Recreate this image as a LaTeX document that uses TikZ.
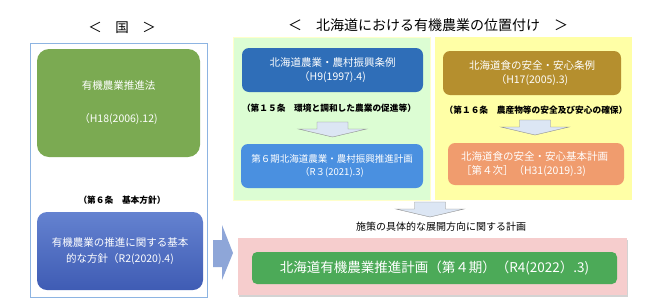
\documentclass[tikz,border=0pt]{standalone}
\usepackage{fontspec}
\setmainfont{Noto Sans CJK JP}
\usepackage{tikz}
\usetikzlibrary{arrows.meta, positioning, calc, shadows}
\definecolor{kokuline}{HTML}{8DB4E2}
\definecolor{hougreen}{HTML}{7BAA52}
\definecolor{kihontop}{HTML}{6482D0}
\definecolor{kihonbot}{HTML}{3F5CB4}
\definecolor{jourei}{HTML}{2F6EB8}
\definecolor{keikaku}{HTML}{4A90E0}
\definecolor{shokuolive}{HTML}{B58F2E}
\definecolor{shokusalmon}{HTML}{F09C6E}
\definecolor{pnlgreen}{HTML}{DCFDD3}
\definecolor{pnlyellow}{HTML}{FFFFA6}
\definecolor{plnpink}{HTML}{F6CDCD}
\definecolor{plngreen}{HTML}{4CAA58}
\definecolor{arrfill}{HTML}{DCE6F4}
\definecolor{bigarr}{HTML}{8EA6D8}

\begin{document}
\begin{tikzpicture}[
        x=1pt, y=-1pt,
        font=\fontsize{10.5}{14}\selectfont,
        bx/.style={rounded corners=7pt, text=white, align=center,
                   inner sep=0pt},
        lbl/.style={font=\fontsize{8.7}{10}\selectfont\bfseries},
        ttl/.style={font=\fontsize{14}{16}\selectfont},
        dnarr/.pic={\draw[fill=arrfill, draw=black!45, line width=0.4pt]
                   (-15.5,0) -- (15.5,0) -- (15.5,7) -- (34,7) -- (0,15)
                   -- (-34,7) -- (-15.5,7) -- cycle;},
      ]
      \useasboundingbox (0,0) rectangle (650,306);

      % Titles
      \node[ttl, font=\fontsize{13.5}{16}\selectfont] (tkoku) at (122,28)
            {＜　国　＞};
      \node[ttl] (tdo) at (428,25) {＜　北海道における有機農業の位置付け　＞};

      % Kuni panel
      \node[draw=kokuline, line width=0.8pt, minimum width=177pt,
            minimum height=254pt, inner sep=0pt] (koku) at (118.5,170) {};
      \node[bx, fill=hougreen, rounded corners=12pt, minimum width=163pt,
            minimum height=108pt] (hou) at (118.5,103)
            {有機農業推進法\\[19pt]（H18(2006).12)};
      \node[lbl] (jo6) at (122,200) {（第６条　基本方針）};
      \shade[top color=kihontop, bottom color=kihonbot,
             rounded corners=10pt] (37,212) rectangle (203,290);
      \node[bx, minimum width=166pt, minimum height=78pt,
            font=\fontsize{10.5}{16}\selectfont] (kihon)
            at (120,251) {有機農業の推進に関する基本\\的な方針（R2(2020).4)};

      % Hokkaido panels
      \node[fill=pnlgreen, draw=pnlyellow!60!white, minimum width=197pt,
            minimum height=163pt, inner sep=0pt] (pg) at (331.5,118.5) {};
      \node[fill=pnlyellow, minimum width=197pt, minimum height=163pt,
            inner sep=0pt] (py) at (533.5,118.5) {};

      \node[bx, fill=jourei, minimum width=181pt, minimum height=44pt]
            (jourei) at (332.5,70) {北海道農業・農村振興条例\\（H9(1997).4)};
      \node[lbl] (jo15) at (329,108) {（第１５条　環境と調和した農業の促進等）};
      \pic (a1) at (332.5,122) {dnarr};
      \node[bx, fill=keikaku, minimum width=182pt, minimum height=44pt,
            font=\fontsize{9.5}{13}\selectfont]
            (shinko) at (332,166) {第６期北海道農業・農村振興推進計画\\（R３(2021).3)};

      \node[bx, fill=shokuolive, minimum width=178pt, minimum height=44pt]
            (shoku) at (532,73) {北海道食の安全・安心条例\\（H17(2005).3)};
      \node[lbl] (jo16) at (536,110) {（第１６条　農産物等の安全及び安心の確保）};
      \pic (a2) at (535,120) {dnarr};
      \node[bx, fill=shokusalmon, minimum width=176pt, minimum height=42pt,
            align=left, text width=150pt] (anzen) at (536,164)
            {北海道食の安全・安心基本計画\\［第４次］（H31(2019).3)};

      % Plan
      \pic (a3) at (430,202) {dnarr};
      \node[font=\fontsize{10}{12}\selectfont] (sesaku) at (441,227)
            {施策の具体的な展開方向に関する計画};
      \node[fill=plnpink, minimum width=389pt, minimum height=57pt,
            inner sep=0pt, drop shadow={opacity=0.35, shadow xshift=1pt,
            shadow yshift=-2pt}] (plan) at (432.5,266.5) {};
      \node[bx, fill=plngreen, rounded corners=5pt, minimum width=365pt,
            minimum height=32pt, font=\fontsize{13.5}{15}\selectfont]
            (yuki) at (434.5,268) {北海道有機農業推進計画（第４期）（R4(2022）.3)};

      % Arrow from kuni
      \fill[bigarr] (213,240) -- (222,240) -- (222,225) -- (233,253)
            -- (222,280) -- (222,267) -- (213,267) -- cycle;
      \end{tikzpicture}
\end{document}
